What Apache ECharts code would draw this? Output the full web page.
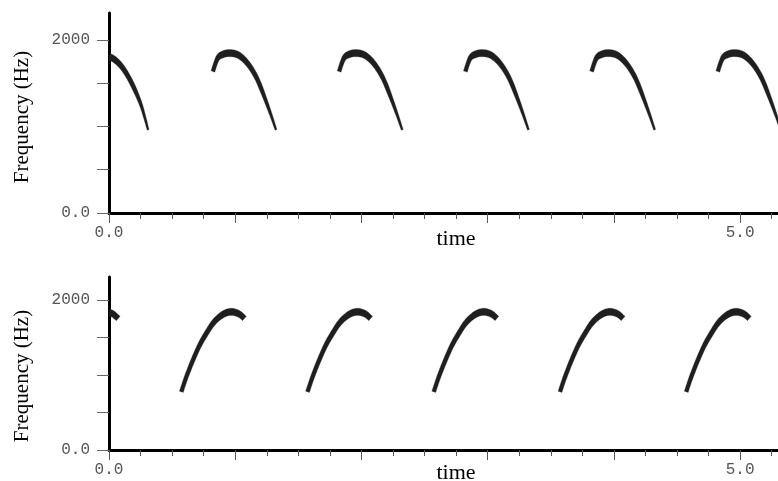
<!DOCTYPE html>
<html><head><meta charset="utf-8">
<script src="https://cdn.jsdelivr.net/npm/echarts@6/dist/echarts.min.js"></script>
<style>html,body{margin:0;padding:0;background:#fff}#c{width:778px;height:481px}</style>
</head><body><div id="c"></div>
<script>
// ---- data (time in s, frequency in Hz) ----
const upperCall0 = [[0,1807],[0.047,1769],[0.1,1691],[0.152,1576],[0.205,1422],[0.258,1229],[0.31,960]];
const upperCall1 = [[0.823,1634],[0.862,1788],[0.915,1838],[0.968,1846],[1.020,1827],[1.072,1769],[1.125,1673],[1.177,1538],[1.230,1345],[1.283,1133],[1.323,960]];
const upperCall2 = [[1.823,1634],[1.862,1788],[1.915,1838],[1.968,1846],[2.020,1827],[2.072,1769],[2.125,1673],[2.177,1538],[2.230,1345],[2.283,1133],[2.323,960]];
const upperCall3 = [[2.823,1634],[2.862,1788],[2.915,1838],[2.968,1846],[3.020,1827],[3.072,1769],[3.125,1673],[3.177,1538],[3.230,1345],[3.283,1133],[3.323,960]];
const upperCall4 = [[3.823,1634],[3.862,1788],[3.915,1838],[3.968,1846],[4.020,1827],[4.072,1769],[4.125,1673],[4.177,1538],[4.230,1345],[4.283,1133],[4.323,960]];
const upperCall5 = [[4.823,1634],[4.862,1788],[4.915,1838],[4.968,1846],[5.020,1827],[5.072,1769],[5.125,1673],[5.177,1538],[5.230,1345],[5.283,1133],[5.323,960]];

const lowerCall0 = [[0,1835],[0.033,1813],[0.073,1756]];
const lowerCall1 = [[0.573,777],[0.613,977],[0.665,1200],[0.718,1400],[0.771,1556],[0.823,1689],[0.875,1777],[0.928,1831],[0.980,1844],[1.033,1813],[1.073,1756]];
const lowerCall2 = [[1.573,777],[1.613,977],[1.665,1200],[1.718,1400],[1.771,1556],[1.823,1689],[1.875,1777],[1.928,1831],[1.980,1844],[2.033,1813],[2.073,1756]];
const lowerCall3 = [[2.573,777],[2.613,977],[2.665,1200],[2.718,1400],[2.771,1556],[2.823,1689],[2.875,1777],[2.928,1831],[2.980,1844],[3.033,1813],[3.073,1756]];
const lowerCall4 = [[3.573,777],[3.613,977],[3.665,1200],[3.718,1400],[3.771,1556],[3.823,1689],[3.875,1777],[3.928,1831],[3.980,1844],[4.033,1813],[4.073,1756]];
const lowerCall5 = [[4.573,777],[4.613,977],[4.665,1200],[4.718,1400],[4.771,1556],[4.823,1689],[4.875,1777],[4.928,1831],[4.980,1844],[5.033,1813],[5.073,1756]];

const yTickValues = [0, 500, 1000, 1500, 2000];
const yLabelValues = [0, 2000];
const xLabelValues = [0, 5];
const xMajorTicks = [0, 1, 2, 3, 4, 5];
const xMax = 5.3;
const yMax = 2310;
const xTitle = 'time';
const yTitle = 'Frequency (Hz)';

const upperCalls = [upperCall0, upperCall1, upperCall2, upperCall3, upperCall4, upperCall5];
const lowerCalls = [lowerCall0, lowerCall1, lowerCall2, lowerCall3, lowerCall4, lowerCall5];

const xMinorTicks = [];
for (let v = 0; v <= 5.26; v += 0.25) xMinorTicks.push(Math.round(v * 100) / 100);

// Catmull-Rom smoothing in pixel space (rendering only)
function densify(p, k) {
  const out = [];
  const n = p.length;
  if (n < 3) {
    for (let i = 0; i < n - 1; i++) for (let j = 0; j < k; j++) {
      const s = j / k; out.push([p[i][0] + (p[i+1][0]-p[i][0])*s, p[i][1] + (p[i+1][1]-p[i][1])*s]);
    }
    out.push(p[n-1]); return out;
  }
  for (let i = 0; i < n - 1; i++) {
    const p0 = p[Math.max(i-1,0)], p1 = p[i], p2 = p[i+1], p3 = p[Math.min(i+2,n-1)];
    for (let j = 0; j < k; j++) {
      const t = j / k, t2 = t*t, t3 = t2*t;
      const f = (a,b,c,d) => 0.5*((2*b) + (-a+c)*t + (2*a-5*b+4*c-d)*t2 + (-a+3*b-3*c+d)*t3);
      out.push([f(p0[0],p1[0],p2[0],p3[0]), f(p0[1],p1[1],p2[1],p3[1])]);
    }
  }
  out.push(p[n-1]);
  return out;
}

function makeRender(calls, taper) {
  return function (params, api) {
    const pts = calls[params.dataIndex].map(q => api.coord(q));
    const d = densify(pts, 10);
    const yA = api.coord([0, 1450])[1], yB = api.coord([0, 950])[1];
    const a = 1.8, b = 3.6;
    const L = [], R = [];
    for (let i = 0; i < d.length; i++) {
      const p0 = d[Math.max(i-1,0)], p1 = d[Math.min(i+1,d.length-1)];
      let tx = p1[0]-p0[0], ty = p1[1]-p0[1];
      const len = Math.hypot(tx,ty) || 1; tx/=len; ty/=len;
      let w = Math.sqrt(a*a*ty*ty + b*b*tx*tx);
      if (taper && ty > 0) {
        const u = Math.min(1, Math.max(0, (d[i][1]-yA)/(yB-yA)));
        w *= 1 - 0.5*u;
      }
      L.push([d[i][0] - ty*w, d[i][1] + tx*w]);
      R.push([d[i][0] + ty*w, d[i][1] - tx*w]);
    }
    return {
      type: 'polygon',
      shape: { points: L.concat(R.reverse()) },
      style: { fill: '#1f1f1f', stroke: 'rgba(60,60,60,0.35)', lineWidth: 0.8 }
    };
  };
}

const labelFont = { color: '#555', fontFamily: 'Liberation Mono', fontSize: 16 };

function xAxesFor(gridIndex) {
  return [
    {
      type: 'value', gridIndex, min: 0, max: xMax, position: 'bottom',
      axisLine: { show: true, onZero: false, lineStyle: { color: '#000', width: 3 } },
      axisTick: { show: true, customValues: xMinorTicks, length: 6, lineStyle: { color: '#555', width: 1 } },
      axisLabel: { show: true, customValues: xLabelValues, margin: 12, formatter: v => v.toFixed(1), ...labelFont },
      splitLine: { show: false }
    },
    {
      type: 'value', gridIndex, min: 0, max: xMax, position: 'bottom',
      axisLine: { show: false },
      axisTick: { show: true, customValues: xMajorTicks, length: 10, lineStyle: { color: '#555', width: 1 } },
      axisLabel: { show: false },
      splitLine: { show: false }
    }
  ];
}
function yAxisFor(gridIndex) {
  return {
    type: 'value', gridIndex, min: 0, max: yMax,
    axisLine: { show: true, onZero: false, lineStyle: { color: '#000', width: 3 } },
    axisTick: { show: true, customValues: yTickValues, length: 12, lineStyle: { color: '#666', width: 1 } },
    axisLabel: { show: true, customValues: yLabelValues, margin: 19, formatter: v => v === 0 ? '0.0' : String(v), ...labelFont },
    splitLine: { show: false }
  };
}

const chart = echarts.init(document.getElementById('c'), null, { renderer: 'canvas' });
chart.setOption({
  animation: false,
  backgroundColor: '#fff',
  grid: [
    { left: 109, top: 13, width: 672, height: 200 },
    { left: 109, top: 277, width: 672, height: 173 }
  ],
  xAxis: xAxesFor(0).concat(xAxesFor(1)),
  yAxis: [yAxisFor(0), yAxisFor(1)],
  series: [
    { type: 'custom', xAxisIndex: 0, yAxisIndex: 0, clip: true,
      data: upperCalls.map(c => c[0]), renderItem: makeRender(upperCalls, true) },
    { type: 'custom', xAxisIndex: 2, yAxisIndex: 1, clip: true,
      data: lowerCalls.map(c => c[0]), renderItem: makeRender(lowerCalls, false) }
  ],
  graphic: [
    { type: 'text', x: 456, y: 239, style: { text: xTitle, align: 'center', verticalAlign: 'middle', font: '22px "Liberation Serif"', fill: '#000' } },
    { type: 'text', x: 456, y: 473, style: { text: xTitle, align: 'center', verticalAlign: 'middle', font: '22px "Liberation Serif"', fill: '#000' } },
    { type: 'text', x: 22, y: 117, rotation: Math.PI / 2, style: { text: yTitle, align: 'center', verticalAlign: 'middle', font: '21px "Liberation Serif"', fill: '#000' } },
    { type: 'text', x: 22, y: 376, rotation: Math.PI / 2, style: { text: yTitle, align: 'center', verticalAlign: 'middle', font: '21px "Liberation Serif"', fill: '#000' } }
  ]
});
</script></body></html>
